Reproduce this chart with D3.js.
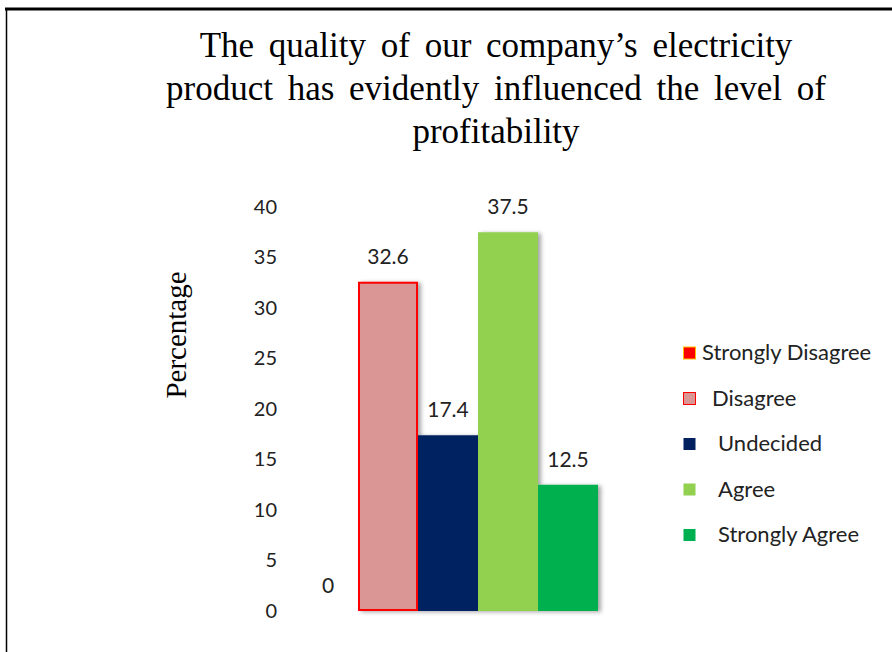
<!DOCTYPE html>
<html>
<head>
<meta charset="utf-8">
<script src="https://cdn.jsdelivr.net/npm/d3@7"></script>
<style>
  html, body { margin: 0; padding: 0; background: #fff; }
  svg { display: block; }
</style>
</head>
<body>
<svg id="chart" width="892" height="652"></svg>
<script>
const titleLines = ["The quality of our company\u2019s electricity", "product has evidently influenced the level of", "profitability"];
const categories = ["Strongly Disagree", "Disagree", "Undecided", "Agree", "Strongly Agree"];
const values = [0, 32.6, 17.4, 37.5, 12.5];
const labels = ["0", "32.6", "17.4", "37.5", "12.5"];
const yTicks = [0, 5, 10, 15, 20, 25, 30, 35, 40];
const fills = ["#FF0000", "#D99694", "#002060", "#92D050", "#00B050"];
const strokes = ["#FFC000", "#FF0000", "none", "none", "none"];
const legendIndent = [0, 10, 16, 16, 16];

const svg = d3.select("#chart");
const sans = "Lato, 'Open Sans', sans-serif";
const serif = "'Liberation Serif', 'DejaVu Serif', serif";

// border
svg.append("line").attr("x1", 5).attr("x2", 892).attr("y1", 9).attr("y2", 9)
  .attr("stroke", "#000").attr("stroke-width", 3);
svg.append("line").attr("x1", 6.5).attr("x2", 6.5).attr("y1", 8).attr("y2", 652)
  .attr("stroke", "#000").attr("stroke-width", 1.5);

// shadow filter
const defs = svg.append("defs");
const f = defs.append("filter").attr("id", "shadow").attr("x", "-20%").attr("y", "-10%")
  .attr("width", "150%").attr("height", "130%");
f.append("feDropShadow").attr("dx", 3).attr("dy", 1).attr("stdDeviation", 2)
  .attr("flood-color", "#000").attr("flood-opacity", 0.35);

// title
svg.append("text").attr("text-anchor", "middle")
  .attr("font-family", serif).attr("font-size", 35).attr("fill", "#000")
  .selectAll("tspan").data(titleLines).join("tspan")
  .attr("x", 496).attr("y", (d, i) => 57 + i * 43).attr("word-spacing", 6).text(d => d);

const x = d3.scaleBand().domain(categories).range([298, 598]).paddingInner(0).paddingOuter(0);
const y = d3.scaleLinear().domain([0, 40]).range([611, 207]);

// y axis (labels only)
const yAxis = d3.axisLeft(y).tickValues(yTicks).tickSize(0).tickPadding(0);
const gy = svg.append("g").attr("transform", "translate(277,0)").call(yAxis);
gy.select(".domain").remove();
gy.selectAll("text").attr("font-family", sans).attr("font-size", 20).attr("fill", "#222");

// axis title
svg.append("text").attr("transform", "translate(186,335) rotate(-90)")
  .attr("text-anchor", "middle").attr("font-family", serif).attr("font-size", 29)
  .attr("fill", "#000").text("Percentage");

// bars
const bars = svg.append("g").attr("filter", "url(#shadow)");
bars.selectAll("rect").data(categories).join("rect")
  .attr("x", (d, i) => x(d) + (strokes[i] !== "none" ? 1 : 0))
  .attr("y", (d, i) => y(values[i]) + (strokes[i] !== "none" ? 1 : 0))
  .attr("width", (d, i) => x.bandwidth() - (strokes[i] !== "none" ? 2 : 0))
  .attr("height", (d, i) => Math.max(0, y(0) - y(values[i]) - (strokes[i] !== "none" ? 2 : 0)))
  .attr("fill", (d, i) => fills[i])
  .attr("stroke", (d, i) => values[i] > 0 ? strokes[i] : "none")
  .attr("stroke-width", 2);

// value labels
svg.append("g").selectAll("text").data(categories).join("text")
  .attr("x", d => x(d) + x.bandwidth() / 2)
  .attr("y", (d, i) => y(values[i]) - 18)
  .attr("text-anchor", "middle").attr("font-family", sans).attr("font-size", 21)
  .attr("fill", "#222").text((d, i) => labels[i]);

// legend
const lg = svg.append("g");
const items = lg.selectAll("g").data(categories).join("g")
  .attr("transform", (d, i) => `translate(683,${353 + i * 45.5})`);
items.append("rect").attr("x", 0.5).attr("y", -6).attr("width", 12).attr("height", 12)
  .attr("fill", (d, i) => fills[i])
  .attr("stroke", (d, i) => strokes[i]).attr("stroke-width", 1);
items.append("text").attr("x", (d, i) => 19 + legendIndent[i]).attr("y", 7)
  .attr("font-family", sans).attr("font-size", 22).attr("fill", "#222")
  .text(d => d);
</script>
</body>
</html>
